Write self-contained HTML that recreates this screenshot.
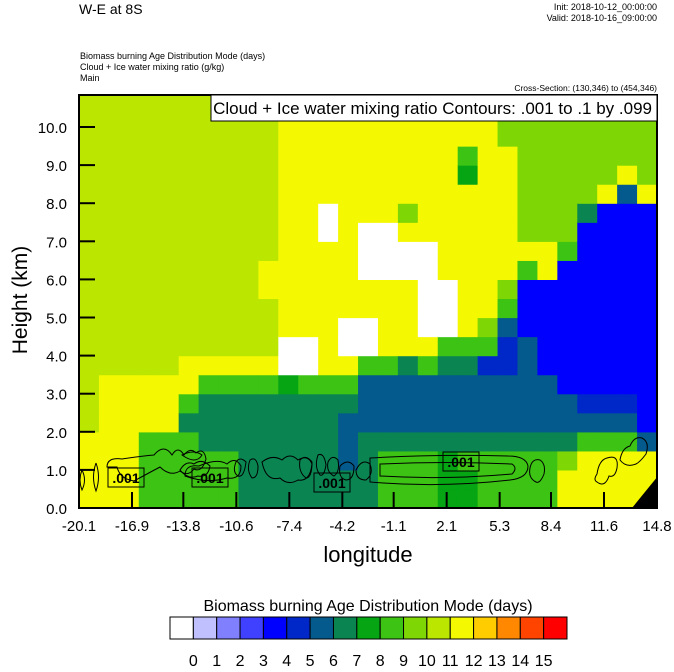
<!DOCTYPE html>
<html><head><meta charset="utf-8">
<style>
html,body{margin:0;padding:0;background:#fff;}
body{width:674px;height:667px;overflow:hidden;font-family:"Liberation Sans",sans-serif;}
svg text{font-family:"Liberation Sans",sans-serif;}
</style></head>
<body>
<svg id="chart" width="674" height="667" viewBox="0 0 674 667" xmlns="http://www.w3.org/2000/svg">
  <text x="79" y="14" font-size="14">W-E at 8S</text>
  <text x="657" y="10" font-size="9" text-anchor="end">Init: 2018-10-12_00:00:00</text>
  <text x="657" y="21" font-size="9" text-anchor="end">Valid: 2018-10-16_09:00:00</text>
  <text x="80" y="59" font-size="9">Biomass burning Age Distribution Mode    (days)</text>
  <text x="80" y="70" font-size="9">Cloud + Ice water mixing ratio    (g/kg)</text>
  <text x="80" y="81" font-size="9">Main</text>
  <text x="657" y="91" font-size="8.5" text-anchor="end">Cross-Section: (130,346) to (454,346)</text>
  <g id="field"></g>
  <g id="contours" fill="none" stroke="#000" stroke-width="1"></g>
  <g id="axes"></g>
  <g id="cbar"></g>
</svg>
<script>
// Data: age-mode class per column (bottom->top, 0.5 km rows); hex digit = palette index
const lonTicks = [-20.1,-16.9,-13.8,-10.6,-7.4,-4.2,-1.1,2.1,5.3,8.4,11.6,14.8];
const heightTicks = [0,1,2,3,4,5,6,7,8,9,10];
const cbarLabels = ["0","1","2","3","4","5","6","7","8","9","10","11","12","13","14","15"];
const palette = ["#ffffff","#c0c0ff","#8080ff","#4040ff","#0000ff","#0028c8","#045a8c","#0a8552","#05a514","#3cc314","#7ed705","#bae600","#f4f800","#ffcc00","#ff8800","#ff4400","#ff0000"];
const columns = [
"ccccbbbbbbbbbbbbbbbbbb",
"cccccccbbbbbbbbbbbbbbb",
"cccccccbbbbbbbbbbbbbbb",
"9999cccbbbbbbbbbbbbbbb",
"9999cccbbbbbbbbbbbbbbb",
"999979ccbbbbbbbbbbbbbb",
"9997779cbbbbbbbbbbbbbb",
"9997779cbbbbbbbbbbbbbb",
"7777779cbbbbbbbbbbbbbb",
"7777779cbbbccbbbbbbbbb",
"777777800ccccccccccccc",
"777777900ccccccccccccc",
"7777779ccccccc00cccccc",
"7766679c00cccccccccccc",
"7777666900cc000ccccccc",
"99976669cccc000ccccccc",
"99976667cccc00cacccccc",
"99976669c00000cccccccc",
"888766679000cccccccccc",
"889766679cccccccc89ccc",
"999766659acccccccccccc",
"99976665569acccccccaaa",
"9997666664449caaaaaaaa",
"999766644444ccaaaaaaaa",
"cca76644444449aaaaaaaa",
"ccc9654444444447aaaaaa",
"ccc9654444444444caaaaa",
"ccc96544444444446caaaa",
"ccc6444444444444caaaaa"
];
const rowKm = 0.5;
const lonMin = -20.1, lonMax = 14.8, hMin = 0, hMax = 10.84;
const X0 = 79, X1 = 657, Y0 = 508, Y1 = 95;
const NS = "http://www.w3.org/2000/svg";
function xs(lon){ return X0 + (lon - lonMin) / (lonMax - lonMin) * (X1 - X0); }
function ys(h){ return Y0 - (h - hMin) / (hMax - hMin) * (Y0 - Y1); }
function mk(tag, attrs, parent){ const e = document.createElementNS(NS, tag); for (const k in attrs) e.setAttribute(k, attrs[k]); parent.appendChild(e); return e; }

const field = document.getElementById('field');
const colLon = (lonMax - lonMin) / columns.length;
columns.forEach((col, c) => {
  for (let r = 0; r < col.length; r++) {
    const v = parseInt(col[r], 16);
    const xa = xs(lonMin + c * colLon), xb = xs(lonMin + (c + 1) * colLon);
    const yt = Math.max(ys((r + 1) * rowKm), Y1), yb = ys(r * rowKm);
    if (yb <= Y1) continue;
    const rect = mk('rect', {x: xa, y: yt, width: xb - xa + 0.6, height: yb - yt + 0.6, fill: palette[v]}, field);
    
    
  }
});
const corner = mk('polygon', {points: "632,508 658,508 658,476", fill: "#000"}, field);



const cg = document.getElementById('contours');
const paths = [
"M82,470 q-4,10 0,20 q5,-10 0,-20 M96,463 q-5,14 0,28 q5,-14 0,-28",
"M107,467 q0,-10 15,-8 q20,-3 32,-4 q10,-12 18,0 q6,-10 12,0 q6,-8 12,-2 q8,-6 10,6 q-4,14 -12,10 q-6,8 -14,2 q-10,6 -20,-4 q-15,8 -26,14 q-14,-2 -17,-14z",
"M180,470 q6,-10 14,-6 q8,-6 16,2 q-2,12 -12,10 q-10,4 -18,-6z",
"M182,455 q12,-6 20,0 q-6,10 -20,0z",
"M185,476 q0,-12 14,-10 q18,-8 28,-2 q8,-8 14,2 q0,14 -14,12 q-20,6 -42,-2z",
"M236,462 q4,-6 10,0 q-2,16 -8,14 q-6,-4 -2,-14z M250,460 q6,-4 8,6 q0,12 -6,12 q-6,-8 -2,-18z",
"M262,462 q10,-8 20,-2 q8,-8 16,0 q10,-6 14,4 q-2,18 -14,16 q-10,6 -18,-2 q-14,4 -18,-16z",
"M300,460 q6,-6 12,2 q0,16 -6,16 q-8,-6 -6,-18z M318,455 q6,-3 8,10 q-2,12 -6,10 q-6,-8 -2,-20z",
"M328,462 q4,-8 10,-2 q2,12 -4,16 q-8,-4 -6,-14z M340,466 q8,-8 14,0 q0,14 -8,14 q-8,-2 -6,-14z",
"M356,470 q6,-12 14,-6 q4,10 -4,16 q-10,0 -10,-10z M370,458 l0,24 q70,6 140,-2 q18,-2 18,-14 q-2,-10 -20,-10 q-70,-2 -138,2z",
"M380,464 l0,12 q65,4 132,-2 q6,-6 0,-10 q-66,-3 -132,0z",
"M530,468 q2,-10 10,-8 q6,4 4,14 q-4,10 -8,8 q-8,-4 -6,-14z",
"M597,474 q2,-14 10,-16 q12,-4 10,10 q-2,10 -8,8 q-4,12 -12,6 q-4,-2 0,-8z",
"M620,460 q2,-12 10,-14 q4,-10 12,-8 q8,4 4,16 q-6,8 -10,10 q-10,4 -16,-4z"
];
paths.forEach(d => {
  const p = mk('path', {d: d}, cg);
  
  
});
const labelBoxes = [[108,468],[192,468],[314,473],[443,452]];
labelBoxes.forEach(([x,y]) => {
  const r = mk('rect', {x: x, y: y, width: 36, height: 19, fill: "none", stroke: "#000"}, cg);
  
  
  const t = mk('text', {x: x + 18, y: y + 15, 'font-size': 14, 'font-weight': 'bold', 'text-anchor': 'middle', fill: '#000', stroke: 'none'}, cg);
  t.textContent = ".001";
  
  
});

const ax = document.getElementById('axes');
const frame = mk('rect', {x: X0, y: Y1, width: X1 - X0, height: Y0 - Y1, fill: "none", stroke: "#000", 'stroke-width': 2}, ax);


heightTicks.forEach(h => {
  const y = ys(h);
  const l = mk('line', {x1: X0, x2: X0 + 16, y1: y, y2: y, stroke: "#000", 'stroke-width': 2}, ax);
  
  
  const t = mk('text', {x: 67, y: y + 6, 'font-size': 15, 'text-anchor': 'end'}, ax);
  t.textContent = h.toFixed(1);
  
  
});
lonTicks.forEach(lon => {
  const x = xs(lon);
  const l = mk('line', {x1: x, x2: x, y1: Y0, y2: Y0 - 16, stroke: "#000", 'stroke-width': 2}, ax);
  
  
  const t = mk('text', {x: x, y: 531, 'font-size': 15, 'text-anchor': 'middle'}, ax);
  t.textContent = lon.toFixed(1);
  
  
});
const yt = mk('text', {x: 0, y: 0, 'font-size': 21, 'text-anchor': 'middle', transform: "translate(27,300) rotate(-90)"}, ax);
yt.textContent = "Height (km)";


const xt = mk('text', {x: 368, y: 562, 'font-size': 22, 'text-anchor': 'middle'}, ax);
xt.textContent = "longitude";


const ib = mk('rect', {x: 211, y: 95, width: 446, height: 26, fill: "#fff", stroke: "#000", 'stroke-width': 1}, ax);


const it = mk('text', {x: 652, y: 114, 'font-size': 17, 'text-anchor': 'end'}, ax);
it.textContent = "Cloud + Ice water mixing ratio Contours: .001 to .1 by .099";



const cb = document.getElementById('cbar');
const cbX = 170, cbW = 397, cbY = 617, cbH = 22;
const bw = cbW / palette.length;
palette.forEach((col, i) => {
  const r = mk('rect', {x: cbX + i * bw, y: cbY, width: bw, height: cbH, fill: col, stroke: "#000", 'stroke-width': 1}, cb);
  
  
});
cbarLabels.forEach((lab, i) => {
  const t = mk('text', {x: cbX + (i + 1) * bw, y: 666, 'font-size': 16, 'text-anchor': 'middle'}, cb);
  t.textContent = lab;
  
  
});
const ct = mk('text', {x: 368, y: 611, 'font-size': 16, 'text-anchor': 'middle'}, cb);
ct.textContent = "Biomass burning Age Distribution Mode  (days)";


</script>
</body></html>
